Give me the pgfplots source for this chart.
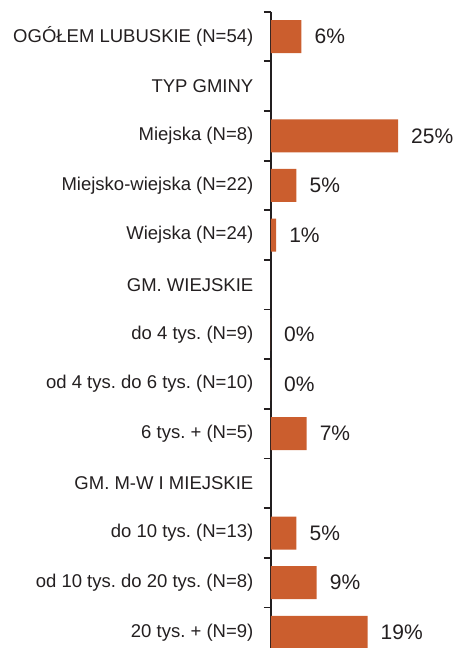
\documentclass[border=0pt]{standalone}
\usepackage{pgfplots}
\pgfplotsset{compat=1.18}
\usepackage{fontspec}
\setmainfont{Liberation Sans}
\frenchspacing
\definecolor{barc}{RGB}{203,94,46}
\definecolor{txt}{RGB}{35,31,32}
\begin{document}
\frenchspacing
\begin{tikzpicture}
\begin{axis}[
  scale only axis, width=188pt, height=636.3pt,
  xmin=0, xmax=37.0, ymin=-0.5, ymax=12.316, y dir=reverse,
  /pgf/number format/assume math mode=true,
  axis x line=none, axis y line*=left,
  y axis line style={-, line width=1.8pt, color=txt},
  ytick={0,...,12},
  yticklabels={OGÓŁEM LUBUSKIE (N=54),TYP GMINY,Miejska (N=8),Miejsko-wiejska (N=22),Wiejska (N=24),GM. WIEJSKIE,do 4 tys. (N=9),od 4 tys. do 6 tys. (N=10),6 tys. + (N=5),GM. M-W I MIEJSKIE,do 10 tys. (N=13),od 10 tys. do 20 tys. (N=8),20 tys. + (N=9)},
  major tick length=0pt,
  minor ytick={-0.5,0.5,...,11.5},
  minor tick length=7pt,
  tick align=outside,
  minor tick style={line width=1.8pt, color=txt},
  yticklabel style={font=\fontsize{18.5}{22}\selectfont\frenchspacing, text=txt, anchor=east, inner sep=0pt, xshift=-17.5pt},
  xbar, bar width=33pt,
  nodes near coords={\pgfmathprintnumber[assume math mode=true]{\pgfplotspointmeta}\%},
  nodes near coords style={font=\fontsize{21}{25}\selectfont, text=txt, anchor=west, inner sep=0pt, xshift=13pt},
  point meta=x,
]
\addplot[fill=barc, draw=none] coordinates {(6,0) (25,2) (5,3) (1,4) (0,6) (0,7) (7,8) (5,10) (9,11) (19,12)};
\end{axis}
\pgfresetboundingbox
\path[use as bounding box] ([shift={(-271pt,11.7pt)}]current axis.north west) rectangle (current axis.south east);
\end{tikzpicture}
\end{document}
